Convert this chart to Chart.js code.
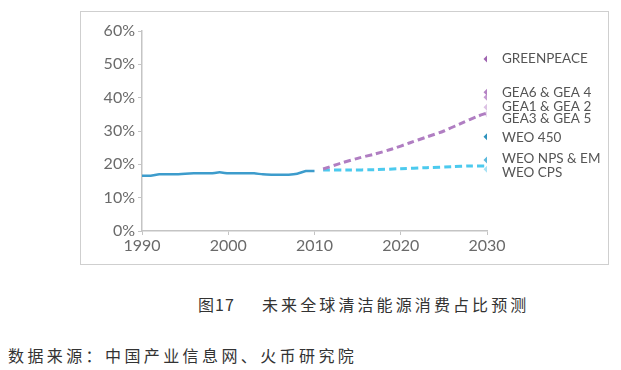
<!DOCTYPE html>
<html>
<head>
<meta charset="utf-8">
<script src="https://cdn.jsdelivr.net/npm/chart.js@4/dist/chart.umd.min.js"></script>
<style>
  body { margin: 0; background: #fff; width: 621px; height: 370px; position: relative; overflow: hidden; }
  #frame { position: absolute; left: 80px; top: 11px; width: 527px; height: 252px; border: 1.5px solid #cfcfcf; }
  #wrap { position: absolute; left: 0; top: 0; width: 621px; height: 270px; }
  .cap { position: absolute; font-family: "Noto Sans CJK SC", sans-serif; color: #333; font-size: 16px; white-space: nowrap; }
</style>
</head>
<body>
<div id="frame"></div>
<div id="wrap"><canvas id="chart" width="621" height="270"></canvas></div>
<div class="cap" style="left:198px; top:292px; letter-spacing:1px;">图17</div>
<div class="cap" style="left:262px; top:292px; letter-spacing:3.1px;">未来全球清洁能源消费占比预测</div>
<div class="cap" style="left:8px; top:343px; letter-spacing:3.4px;">数据来源：中国产业信息网、火币研究院</div>
<script>
// historical share 1990-2010 (%)
const histYears = [1990,1991,1992,1993,1994,1995,1996,1997,1998,1999,2000,2001,2002,2003,2004,2005,2006,2007,2008,2009,2010];
const histValues = [16.6,16.6,17.0,17.0,17.0,17.2,17.3,17.3,17.3,17.6,17.3,17.3,17.3,17.3,17.0,16.9,16.9,16.9,17.2,18.0,18.0];

// projections
const gpYears = [2011,2013,2015,2017,2019,2021,2023,2025,2027,2029,2030];
const gpValues = [18.6,20.3,21.8,23.1,24.6,26.4,28.2,30.0,32.3,34.5,35.4];
const weoYears = [2011,2014,2017,2020,2023,2026,2028,2030];
const weoValues = [18.3,18.3,18.4,18.7,19.0,19.3,19.5,19.5];

// 2030 scenario markers
const scenNames = ['GREENPEACE','GEA6','GEA 4','GEA1 & GEA 2','GEA3 & GEA 5','WEO 450','WEO NPS & EM','WEO CPS'];
const scenValues = [51.6,41.6,40.1,37.1,35.1,28.3,21.3,18.5];
const scenColors = ['#9f63b0','#b483c4','#c49bd1','#dcc2e4','#eadaef','#2f93bd','#5ab8dc','#a6e2f5'];

// right-hand labels and the value they sit at
const labelTexts = ['GREENPEACE','GEA6 & GEA 4','GEA1 & GEA 2','GEA3 & GEA 5','WEO 450','WEO NPS & EM','WEO CPS'];
const labelAt = [51.6,41.4,37.2,33.6,28.0,21.6,17.6];

const yTicks = [0,10,20,30,40,50,60];
const xTicks = [1990,2000,2010,2020,2030];

const toXY = (xs, ys) => xs.map((x, i) => ({ x: x, y: ys[i] }));

const sideLabels = {
  id: 'sideLabels',
  afterDatasetsDraw(chart) {
    const { ctx, scales } = chart;
    ctx.save();
    ctx.font = '13.5px Lato, "Open Sans", sans-serif';
    ctx.fillStyle = '#555';
    ctx.textBaseline = 'middle';
    const x0 = scales.x.getPixelForValue(2030) + 15;
    labelTexts.forEach((t, i) => {
      ctx.fillText(t, x0, scales.y.getPixelForValue(labelAt[i]));
    });
    ctx.restore();
  }
};

const scenSets = scenNames.map((n, i) => ({
  label: n,
  data: [{ x: 2030, y: scenValues[i] }],
  showLine: false,
  pointStyle: 'rectRot',
  pointRadius: 3.5,
  pointBackgroundColor: scenColors[i],
  pointBorderColor: scenColors[i],
  pointBorderWidth: 0
}));

new Chart(document.getElementById('chart'), {
  type: 'line',
  data: {
    datasets: [
      {
        label: 'history',
        data: toXY(histYears, histValues),
        borderColor: '#3d9ccc',
        borderWidth: 2.5,
        pointRadius: 0,
        tension: 0.2
      },
      {
        label: 'high',
        data: toXY(gpYears, gpValues),
        borderColor: '#b07ec2',
        borderWidth: 3,
        borderDash: [7, 4],
        pointRadius: 0,
        tension: 0.3
      },
      {
        label: 'low',
        data: toXY(weoYears, weoValues),
        borderColor: '#4ccaee',
        borderWidth: 3,
        borderDash: [7, 4],
        pointRadius: 0,
        tension: 0.3
      },
      ...scenSets
    ]
  },
  options: {
    responsive: false,
    animation: false,
    layout: { padding: { left: 90, right: 134, top: 31, bottom: 11 } },
    plugins: { legend: { display: false }, tooltip: { enabled: false } },
    scales: {
      x: {
        type: 'linear',
        min: 1990,
        max: 2030,
        afterBuildTicks: s => { s.ticks = xTicks.map(v => ({ value: v })); },
        afterFit: s => { s.height = 28; },
        border: { color: '#c4c4c4', width: 1.5 },
        grid: { display: true, drawOnChartArea: false, tickLength: 4, color: '#c4c4c4' },
        ticks: { color: '#6a6a6a', font: { family: 'Lato, "Open Sans", sans-serif', size: 16 }, padding: 1, maxRotation: 0, callback: v => String(v) }
      },
      y: {
        min: 0,
        max: 60,
        afterBuildTicks: s => { s.ticks = yTicks.map(v => ({ value: v })); },
        afterFit: s => { s.width = 52; },
        border: { color: '#c4c4c4', width: 1.5 },
        grid: { display: true, drawOnChartArea: false, tickLength: 4, color: '#c4c4c4' },
        ticks: { color: '#6a6a6a', font: { family: 'Lato, "Open Sans", sans-serif', size: 16 }, padding: 3, callback: v => v + '%' }
      }
    }
  },
  plugins: [sideLabels]
});
</script>
</body>
</html>
